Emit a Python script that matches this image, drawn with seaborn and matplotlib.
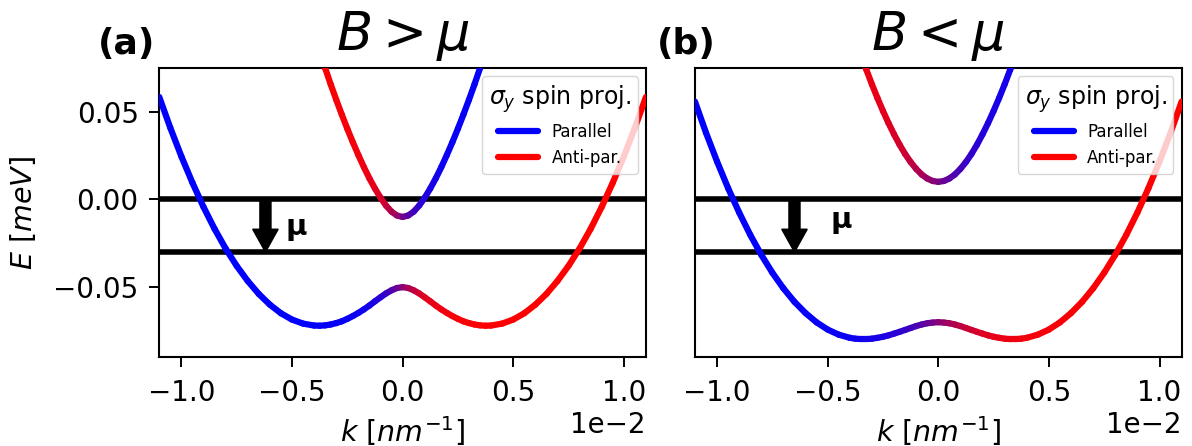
import numpy as np
import matplotlib
matplotlib.use("Agg")
import matplotlib.pyplot as plt
from matplotlib.collections import LineCollection
from matplotlib.lines import Line2D
import seaborn as sns

# Wave vector samples for k >= 0, in units of 1e-2 nm^-1.
# The dispersion is even in k, so each band is mirrored to k < 0.
K_UNIT = 1e-2
K_HALF = [0.0, 0.025, 0.05, 0.075, 0.1, 0.125, 0.15, 0.175, 0.2, 0.225, 0.25,
          0.275, 0.3, 0.325, 0.35, 0.375, 0.4, 0.45, 0.5, 0.55, 0.6, 0.65, 0.7,
          0.75, 0.8, 0.85, 0.9, 0.95, 1.0, 1.05, 1.1]
N_UP = 17  # the upper band is only needed up to k = 0.4 (it leaves the frame)

# Panel (a): B > mu  -- energies in meV
E_LOW_A = [-0.0500, -0.0505, -0.0518, -0.0536, -0.0558, -0.0581, -0.0605, -0.0627,
           -0.0647, -0.0665, -0.0681, -0.0695, -0.0705, -0.0713, -0.0718, -0.0720,
           -0.0719, -0.0708, -0.0685, -0.0649, -0.0600, -0.0539, -0.0465, -0.0379,
           -0.0280, -0.0168, -0.0043, 0.0095, 0.0245, 0.0408, 0.0584]
E_UP_A = [-0.0100, -0.0092, -0.0070, -0.0035, 0.0010, 0.0062, 0.0120, 0.0184,
          0.0253, 0.0326, 0.0403, 0.0484, 0.0568, 0.0656, 0.0748, 0.0843, 0.0942]
# |sigma_y| spin projection along the same k samples
SPIN_A = [0.0, 0.244, 0.450, 0.603, 0.710, 0.783, 0.834, 0.870, 0.896, 0.915,
          0.929, 0.941, 0.949, 0.956, 0.962, 0.967, 0.971, 0.977, 0.981, 0.984,
          0.987, 0.989, 0.990, 0.991, 0.992, 0.993, 0.994, 0.995, 0.995, 0.996, 0.996]

# Panel (b): B < mu
E_LOW_B = [-0.0700, -0.0702, -0.0706, -0.0713, -0.0722, -0.0733, -0.0744, -0.0755,
           -0.0765, -0.0775, -0.0783, -0.0789, -0.0794, -0.0796, -0.0796, -0.0794,
           -0.0789, -0.0771, -0.0742, -0.0701, -0.0648, -0.0584, -0.0507, -0.0418,
           -0.0316, -0.0202, -0.0075, 0.0064, 0.0216, 0.0380, 0.0558]
E_UP_B = [0.0100, 0.0105, 0.0119, 0.0142, 0.0174, 0.0213, 0.0259, 0.0312,
          0.0371, 0.0435, 0.0504, 0.0578, 0.0656, 0.0739, 0.0826, 0.0916, 0.1011]
SPIN_B = [0.0, 0.125, 0.244, 0.353, 0.450, 0.533, 0.603, 0.661, 0.710, 0.750,
          0.783, 0.811, 0.834, 0.853, 0.870, 0.884, 0.896, 0.915, 0.929, 0.941,
          0.949, 0.956, 0.962, 0.967, 0.971, 0.974, 0.977, 0.979, 0.981, 0.983, 0.984]

# Reference energies (meV), arrow and label positions (1e-2 nm^-1, meV)
E_LEVELS = [0.0, -0.03]
ARROW_K = {"a": -0.62, "b": -0.65}
MU_LABEL = {"a": (-0.48, -0.0204), "b": (-0.44, -0.0161)}
TITLES = {"a": r"$B > \mu$", "b": r"$B < \mu$"}
LEGEND_LABELS = ["Parallel", "Anti-par."]

sns.set_theme(style="ticks")
plt.rcParams.update({
    "font.family": ["DejaVu Sans"],
    "mathtext.fontset": "dejavusans",
    "text.color": "black",
    "axes.labelcolor": "black",
    "axes.edgecolor": "black",
    "axes.linewidth": 1.5,
    "xtick.color": "black",
    "ytick.color": "black",
    "xtick.major.size": 7,
    "ytick.major.size": 7,
    "xtick.major.width": 1.4,
    "ytick.major.width": 1.4,
    "xtick.major.pad": 8.7,
    "ytick.major.pad": 7.8,
    "xtick.labelsize": 20,
    "ytick.labelsize": 20,
    "axes.labelsize": 20.5,
})

SPIN_CMAP = sns.blend_palette(["red", "blue"], as_cmap=True)
SPIN_NORM = plt.Normalize(-1, 1)


def mirror(k_half, e_half, spin_half, sign):
    """Extend an even band to negative k; spin flips sign across k = 0."""
    k = np.concatenate([-np.asarray(k_half)[:0:-1], k_half])
    e = np.concatenate([np.asarray(e_half)[:0:-1], e_half])
    s_half = np.asarray(spin_half)
    s = sign * np.concatenate([-s_half[:0:-1], s_half])
    return k, e, s


def draw_band(ax, k, energy, spin):
    x = np.asarray(k) * K_UNIT
    pts = np.column_stack([x, energy])
    segs = np.stack([pts[:-1], pts[1:]], axis=1)
    lc = LineCollection(segs, cmap=SPIN_CMAP, norm=SPIN_NORM,
                        linewidths=4.5, capstyle="round", joinstyle="round",
                        zorder=3)
    lc.set_array(0.5 * (spin[:-1] + spin[1:]))
    ax.add_collection(lc)


fig = plt.figure(figsize=(11.92, 4.46), dpi=100)
ax_a = fig.add_axes([0.1336, 0.1989, 0.4083, 0.649])
ax_b = fig.add_axes([0.583, 0.1989, 0.4083, 0.649])

panels = [
    ("a", ax_a, E_LOW_A, E_UP_A, SPIN_A, -0.126),
    ("b", ax_b, E_LOW_B, E_UP_B, SPIN_B, -0.079),
]

for key, ax, e_low, e_up, spin, lab_x in panels:
    for lvl in E_LEVELS:
        ax.axhline(lvl, color="black", lw=4, zorder=2)

    # lower band: parallel (blue) for k < 0; upper band: parallel for k > 0
    draw_band(ax, *mirror(K_HALF, e_low, spin, -1))
    draw_band(ax, *mirror(K_HALF[:N_UP], e_up, spin[:N_UP], +1))

    ax.arrow(ARROW_K[key] * K_UNIT, E_LEVELS[0], 0, E_LEVELS[1] - E_LEVELS[0],
             width=0.05 * K_UNIT, head_width=0.115 * K_UNIT, head_length=0.013,
             length_includes_head=True, color="black", zorder=4)
    mx, my = MU_LABEL[key]
    ax.text(mx * K_UNIT, my, "μ", fontsize=21, fontweight="bold",
            ha="center", va="baseline", zorder=5)

    ax.set_xlim(-1.1 * K_UNIT, 1.1 * K_UNIT)
    ax.set_ylim(-0.09, 0.075)
    ax.ticklabel_format(axis="x", style="sci", scilimits=(0, 0))
    ax.xaxis.get_offset_text().set_fontsize(20)
    ax.set_xlabel(r"$k\ [nm^{-1}]$", labelpad=5)
    ax.set_title(TITLES[key], fontsize=38, pad=13)
    ax.text(lab_x, 1.047, f"({key})", transform=ax.transAxes, fontsize=26,
            fontweight="bold", ha="left", va="baseline")

    handles = [Line2D([], [], color="blue", lw=4.5),
               Line2D([], [], color="red", lw=4.5)]
    ax.legend(handles, LEGEND_LABELS, title=r"$\sigma_y$ spin proj.",
              loc="upper right", prop={"size": 12}, title_fontsize=17,
              handlelength=2.4, framealpha=0.8)

ax_a.set_yticks([-0.05, 0.0, 0.05])
ax_a.set_ylabel(r"$E\ [meV]$", labelpad=11)
ax_b.set_yticks([])

fig.savefig("out.png", dpi=100)
